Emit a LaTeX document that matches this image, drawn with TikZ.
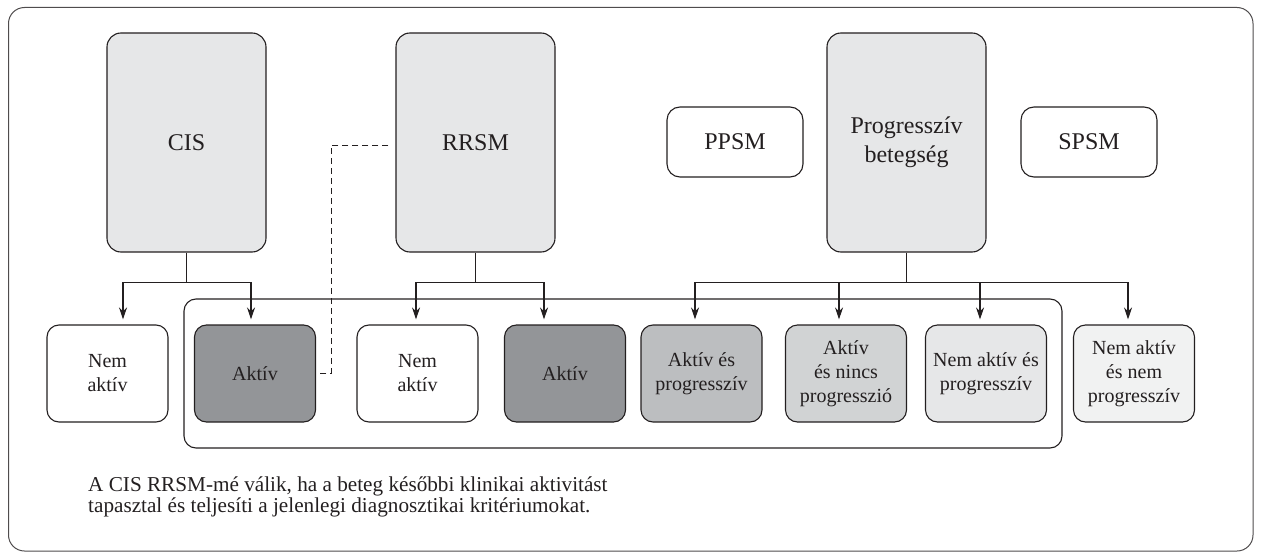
\documentclass[tikz,border=0pt]{standalone}
\usepackage{fontspec}
\setmainfont{Liberation Serif}
\usetikzlibrary{arrows.meta,calc}
\definecolor{ink}{HTML}{231F20}
\definecolor{gA}{HTML}{E6E7E8}
\definecolor{gDark}{HTML}{939598}
\definecolor{gB}{HTML}{BCBEC0}
\definecolor{gC}{HTML}{D1D3D4}
\definecolor{gD}{HTML}{E6E7E8}
\definecolor{gE}{HTML}{F1F2F2}
\tikzset{
  bigbox/.style={draw=ink, line width=1.1pt, rounded corners=14pt, fill=gA,
    minimum width=159pt, minimum height=219pt, inner sep=0pt, align=center,
    text=ink, font=\fontsize{24}{29}\selectfont},
  sidebox/.style={draw=ink, line width=1.1pt, rounded corners=13pt, fill=white,
    minimum width=136pt, minimum height=70pt, inner sep=0pt, align=center,
    text=ink, font=\fontsize{24}{29}\selectfont},
  leaf/.style={draw=ink, line width=1.1pt, rounded corners=12pt,
    minimum width=121pt, minimum height=97pt, inner sep=0pt, align=center,
    text=ink, font=\fontsize{20}{24}\selectfont},
  conn/.style={draw=ink, line width=1.1pt},
  arr/.style={conn, -{Stealth[length=12pt,width=8pt]}},
}
\begin{document}
\begin{tikzpicture}[x=1pt,y=-1pt]
\useasboundingbox (0,0) rectangle (1261,559);
\draw[draw=ink!80, line width=1pt, rounded corners=16pt] (8.5,7.5) rectangle (1253,551);
% group
\draw[conn, rounded corners=12pt] (184,299) rectangle (1062,448);
% top boxes
\node[bigbox] (cis) at (186.5,142.5) {CIS};
\node[bigbox] (rrsm) at (475.5,142.5) {RRSM};
\node[bigbox] (prog) at (906.5,142.5) {Progresszív\\betegség};
\node[sidebox] (ppsm) at (735,142) {PPSM};
\node[sidebox] (spsm) at (1089,142) {SPSM};
% leaves
\node[leaf, fill=white] (na1) at (107.5,373.5) {Nem\\aktív};
\node[leaf, fill=gDark] (a1) at (255,373.5) {Aktív};
\node[leaf, fill=white] (na2) at (417.5,373.5) {Nem\\aktív};
\node[leaf, fill=gDark] (a2) at (565,373.5) {Aktív};
\node[leaf, fill=gB] (ap) at (701.5,373.5) {Aktív és\\progresszív};
\node[leaf, fill=gC] (anp) at (846,373.5) {Aktív\\és nincs\\progresszió};
\node[leaf, fill=gD] (nap) at (986,373.5) {Nem aktív és\\progresszív};
\node[leaf, fill=gE] (nanp) at (1134,373.5) {Nem aktív\\és nem\\progresszív};
% branch coordinates
\coordinate (cisb) at ($(cis.south)+(0,30)$);
\coordinate (rrsmb) at ($(rrsm.south)+(0,30)$);
\coordinate (progb) at ($(prog.south)+(0,30)$);
% CIS
\draw[conn] (cis.south) -- (cisb);
\draw[arr] (cisb) -| ([xshift=15.5pt,yshift=5pt]na1.north);
\draw[arr] (cisb) -| ([xshift=-4pt,yshift=5pt]a1.north);
% RRSM
\draw[conn] (rrsm.south) -- (rrsmb);
\draw[arr] (rrsmb) -| ([xshift=-1.5pt,yshift=5pt]na2.north);
\draw[arr] (rrsmb) -| ([xshift=-21pt,yshift=5pt]a2.north);
% Progressive
\draw[conn] (prog.south) -- (progb);
\draw[arr] (progb) -| ([xshift=-6.5pt,yshift=5pt]ap.north);
\draw[arr] (progb) -| ([xshift=-7pt,yshift=5pt]anp.north);
\draw[arr] (progb) -| ([xshift=-6pt,yshift=5pt]nap.north);
\draw[arr] (progb) -| ([xshift=-6pt,yshift=5pt]nanp.north);
% dashed link
\draw[draw=ink, line width=1pt, dash pattern=on 6pt off 4pt]
  ([xshift=-7pt,yshift=-3pt]rrsm.west) -| ([xshift=15pt]a1.east) -- ([xshift=4pt]a1.east);
% caption
\node[anchor=base west, align=left, inner sep=0pt, text=ink,
  font=\fontsize{21.2}{21}\selectfont] (cap) at (88,512.5)
  {A CIS RRSM-mé válik, ha a beteg későbbi klinikai aktivitást\\tapasztal és teljesíti a jelenlegi diagnosztikai kritériumokat.};
\end{tikzpicture}
\end{document}
